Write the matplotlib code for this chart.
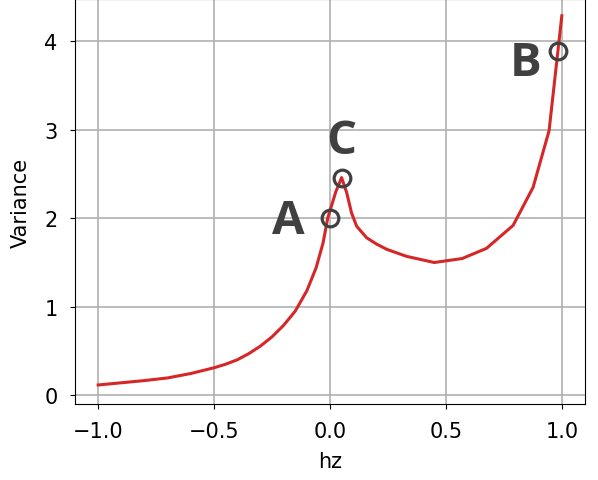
import matplotlib
matplotlib.use("Agg")
import matplotlib.pyplot as plt

hz = [-1.0, -0.9, -0.8, -0.7, -0.6, -0.5, -0.45, -0.4, -0.35, -0.3, -0.25,
      -0.2, -0.15, -0.1, -0.06, -0.03, -0.01, 0.025, 0.05, 0.072, 0.093,
      0.115, 0.158, 0.2, 0.244, 0.33, 0.45, 0.57, 0.675, 0.79, 0.876,
      0.945, 1.0]
variance = [0.115, 0.14, 0.165, 0.195, 0.245, 0.31, 0.35, 0.40, 0.47, 0.555,
            0.66, 0.79, 0.95, 1.18, 1.44, 1.72, 2.0, 2.3, 2.46, 2.29, 2.06,
            1.91, 1.78, 1.71, 1.65, 1.57, 1.50, 1.545, 1.66, 1.92, 2.35,
            2.99, 4.29]

point_labels = ["A", "C", "B"]
point_hz = [0.0, 0.05, 0.985]
point_var = [2.0, 2.46, 3.89]
label_hz = [-0.181, 0.047, 0.845]
label_var = [1.98, 2.88, 3.76]

fig = plt.figure(figsize=(5.98, 4.81), dpi=100)
ax = fig.add_axes([75/598, 76/481, 510/598, 405/481])

ax.plot(hz, variance, color="#d62728", lw=2.2, zorder=3)
ax.plot(point_hz, point_var, "o", ms=12, mfc="none", mec="#404040", mew=2.3, zorder=4)
for t, x, y in zip(point_labels, label_hz, label_var):
    ax.text(x, y, t, ha="center", va="center", fontsize=34, fontweight="bold",
            family=["Open Sans", "DejaVu Sans"], color="#404040", zorder=5)

ax.set_xlim(-1.1, 1.1)
ax.set_ylim(-0.1, 4.48)
ax.set_xticks([-1.0, -0.5, 0.0, 0.5, 1.0])
ax.set_yticks([0, 1, 2, 3, 4])
ax.grid(True, color="#b0b0b0", lw=1.2)
ax.set_axisbelow(True)
ax.tick_params(axis="both", labelsize=15, pad=9)
ax.set_xlabel("hz", fontsize=15, labelpad=7)
ax.set_ylabel("Variance", fontsize=15, labelpad=10)

fig.savefig("out.png", dpi=100)
